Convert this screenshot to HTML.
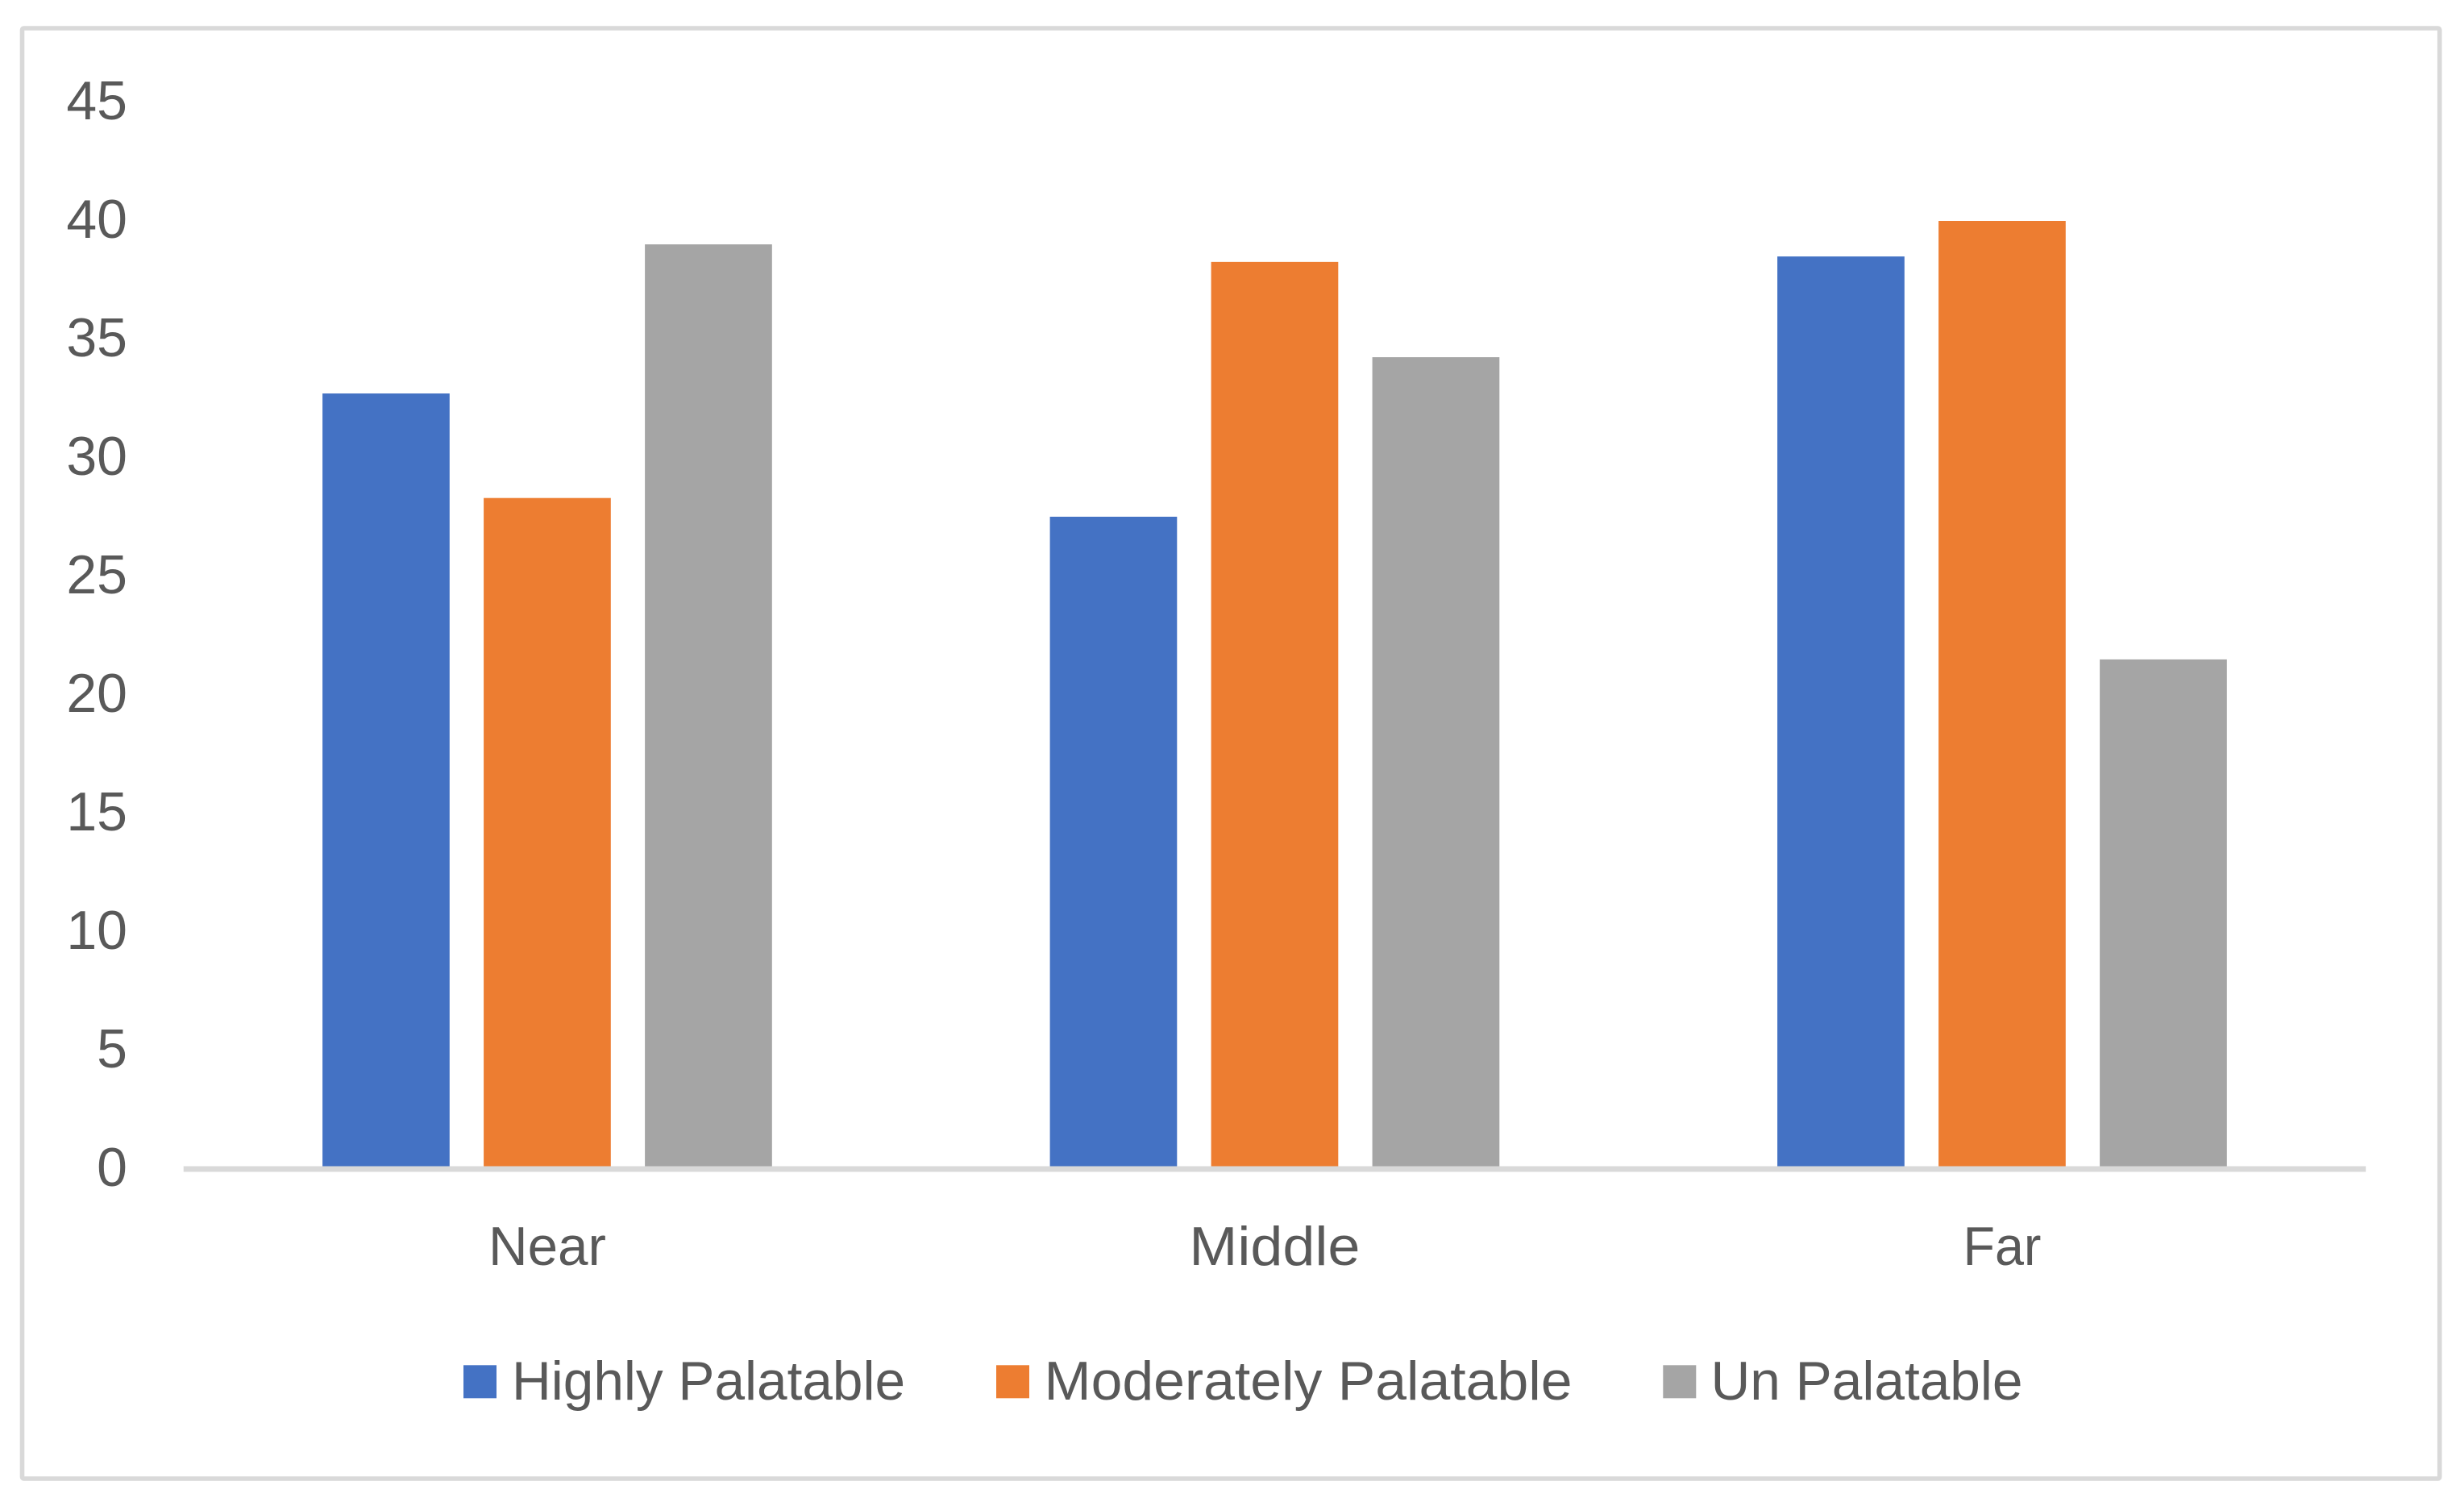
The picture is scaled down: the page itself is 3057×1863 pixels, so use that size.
<!DOCTYPE html>
<html lang="en">
<head>
<meta charset="utf-8">
<title>Palatability by Distance</title>
<style>
  html, body { margin: 0; padding: 0; background: #ffffff; }
  body { width: 3057px; height: 1863px; overflow: hidden; }
  svg { display: block; }
  text { font-family: "Liberation Sans", sans-serif; font-size: 68px; fill: #595959; }
</style>
</head>
<body>
<svg id="chart" xmlns="http://www.w3.org/2000/svg" width="3057" height="1863" viewBox="0 0 3057 1863">
  <rect x="27.5" y="35" width="2999.25" height="1799" rx="2" fill="#ffffff" stroke="#d9d9d9" stroke-width="5.6"/>
  <g id="ticks"></g>
  <g id="bars"></g>
  <rect x="227.7" y="1446.5" width="2707.5" height="7" fill="#d9d9d9"/>
  <g id="cats"></g>
  <g>
    <rect x="575" y="1693.3" width="41" height="41" fill="#4472c4"/>
    <text x="635" y="1736" textLength="488" lengthAdjust="spacingAndGlyphs">Highly Palatable</text>
    <rect x="1236" y="1693.3" width="41" height="41" fill="#ed7d31"/>
    <text x="1295.5" y="1736" textLength="655" lengthAdjust="spacingAndGlyphs">Moderately Palatable</text>
    <rect x="2063.3" y="1693.3" width="41" height="41" fill="#a5a5a5"/>
    <text x="2122.5" y="1736" textLength="387" lengthAdjust="spacingAndGlyphs">Un Palatable</text>
  </g>
</svg>
<script>
const categories = ["Near", "Middle", "Far"];
const highlyPalatable = [32.72, 27.52, 38.5];
const moderatelyPalatable = [28.31, 38.27, 40.0];
const unPalatable = [39.01, 34.25, 21.5];
const tickLabels = [0, 5, 10, 15, 20, 25, 30, 35, 40, 45];

const SVG_NS = "http://www.w3.org/2000/svg";
const plotLeft = 227.7;
const plotRight = 2935.2;
const zeroY = 1450;
const pxPerUnit = 29.4;
const barWidth = 157.7;
const barStep = 200;

function yScale(v) { return zeroY - v * pxPerUnit; }
function bandCenter(i) { return plotLeft + (i + 0.5) * (plotRight - plotLeft) / categories.length; }
function barX(i, s) { return bandCenter(i) + (s - 1) * barStep - barWidth / 2; }

const seriesList = [
  { key: "highly-palatable", values: highlyPalatable, color: "#4472c4" },
  { key: "moderately-palatable", values: moderatelyPalatable, color: "#ed7d31" },
  { key: "un-palatable", values: unPalatable, color: "#a5a5a5" }
];

const barsG = document.getElementById("bars");
seriesList.forEach(function (series, s) {
  series.values.forEach(function (v, i) {
    const r = document.createElementNS(SVG_NS, "rect");
    
    
    r.setAttribute("x", barX(i, s));
    r.setAttribute("y", yScale(v));
    r.setAttribute("width", barWidth);
    r.setAttribute("height", zeroY - yScale(v));
    r.setAttribute("fill", series.color);
    barsG.appendChild(r);
  });
});

const ticksG = document.getElementById("ticks");
tickLabels.forEach(function (t) {
  const el = document.createElementNS(SVG_NS, "text");
  
  
  el.setAttribute("x", 158);
  el.setAttribute("y", yScale(t) + 21);
  el.setAttribute("text-anchor", "end");
  el.textContent = t;
  ticksG.appendChild(el);
});

const catsG = document.getElementById("cats");
function categoryTextWidth(c) {
  if (c === "Middle") return 212;
  if (c === "Far") return 97;
  return 146;
}
categories.forEach(function (c, i) {
  const el = document.createElementNS(SVG_NS, "text");
  
  
  el.setAttribute("x", bandCenter(i));
  el.setAttribute("y", 1568.8);
  el.setAttribute("text-anchor", "middle");
  el.setAttribute("textLength", categoryTextWidth(c));
  el.setAttribute("lengthAdjust", "spacingAndGlyphs");
  el.textContent = c;
  catsG.appendChild(el);
});
</script>
</body>
</html>
